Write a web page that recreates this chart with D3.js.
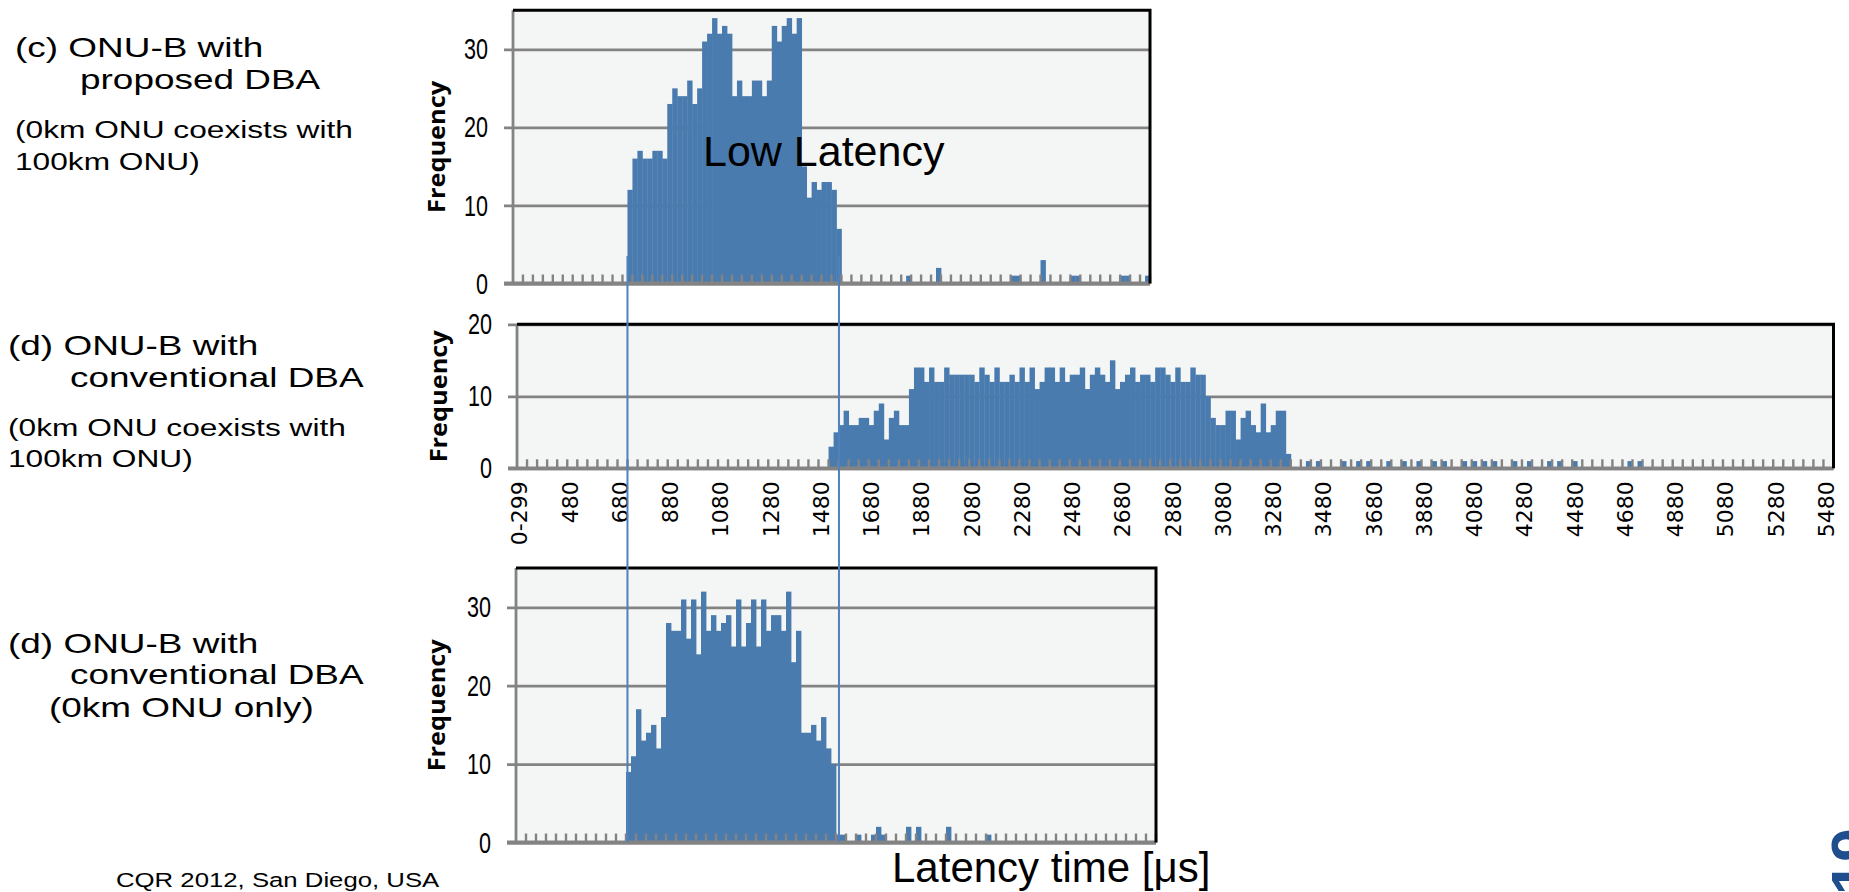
<!DOCTYPE html>
<html lang="en">
<head>
<meta charset="UTF-8">
<title>ONU-B latency histograms</title>
<style>
  body { margin: 0; background: #ffffff; }
  svg { display: block; }
  .note { font-family: "Liberation Sans", Arial, sans-serif; fill: #000; }
</style>
</head>
<body>
<svg id="chart" width="1849" height="892"></svg>
<script src="https://cdn.jsdelivr.net/npm/d3@7"></script>
<script>
// histogram bins: first one is 0-299 us, then 20 us wide bins up to 5500
const bins = ["0-299"].concat(d3.range(300, 5501, 20).map(String));

const xTickLabels = ["0-299","480","680","880","1080","1280","1480","1680","1880","2080","2280",
  "2480","2680","2880","3080","3280","3480","3680","3880","4080","4280","4480","4680","4880",
  "5080","5280","5480"];

const yTicks35 = [0, 10, 20, 30];
const yTicks20 = [0, 10, 20];

// (c) ONU-B with proposed DBA (0km ONU coexists with 100km ONU)
const proposedFirstBin = "740";
const proposedFreq = [12,16,17,16,16,17,17,16,23,25,24,24,26,23,25,31,32,34,32,33,32,
  24,26,24,24,26,26,24,26,33,31,33,34,32,34,15,11,13,12,13,13,12,7];
const proposedTail = [["1860",1],["1980",2],["2280",1],["2300",1],["2400",3],
  ["2520",1],["2540",1],["2720",1],["2740",1],["2820",1]];

// (d) ONU-B with conventional DBA (0km ONU coexists with 100km ONU)
const mixedFirstBin = "1520";
const mixedFreq = [3,5,6,8,6,6,7,7,6,8, 9,4,7,8,6,6,11,14,14,12, 14,12,12,14,13,13,13,13,13,12,
  14,13,12,14,12,12,13,12,14,12, 14,11,12,14,14,12,14,12,13,13, 14,11,13,14,13,12,15,11,12,13,
  14,12,13,13,12,14,14,13,12,14, 12,12,14,13,13,10,7,6,6,8, 8,4,7,8,6,5,9,5,6,8, 8,2];
const mixedTail = [["3420",1],["3460",1],["3560",1],["3620",1],["3660",1],["3740",1],["3800",1],
  ["3860",1],["3920",1],["3960",1],["4040",1],["4080",1],["4120",1],["4160",1],["4240",1],
  ["4300",1],["4380",1],["4420",1],["4480",1],["4700",1],["4740",1]];

// (d) ONU-B with conventional DBA (0km ONU only)
const onlyFirstBin = "720";
const onlyFreq = [9,11,17,13,14,15,12,16,28,27,27,31,26,31,24,32,27,29,27,28,29,
  25,31,25,28,31,25,31,27,29,29,27,32,23,27,14,14,15,13,16,12,10];
const onlyTail = [["1560",1],["1580",1],["1640",1],["1700",1],["1720",2],["1740",1],
  ["1840",2],["1880",2],["2000",2],["2160",1]];

// low latency window marked across the panels
const markerBins = ["740", "1580"];

const svg = d3.select("#chart");

const panels = [
  { id: "proposed", left: 513, right: 1150, top: 10.3, zero: 283.5, yMax: 35, yTicks: yTicks35,
    nBins: 128, first: proposedFirstBin, freq: proposedFreq, tail: proposedTail, labelX: 437, xLabels: false },
  { id: "mixed", left: 517, right: 1833.5, top: 324.3, zero: 468.3, yMax: 20, yTicks: yTicks20,
    nBins: 262, first: mixedFirstBin, freq: mixedFreq, tail: mixedTail, labelX: 439, xLabels: true },
  { id: "only", left: 516, right: 1156, top: 568.1, zero: 842.5, yMax: 35, yTicks: yTicks35,
    nBins: 128, first: onlyFirstBin, freq: onlyFreq, tail: onlyTail, labelX: 437, xLabels: false }
];

function drawPanel(p) {
  const x = d3.scaleBand().domain(bins.slice(0, p.nBins)).range([p.left, p.right]);
  const y = d3.scaleLinear().domain([0, p.yMax]).range([p.zero, p.top]);
  const bw = x.bandwidth();
  const g = svg.append("g").attr("id", p.id);

  // plot area
  g.append("rect")
    .attr("x", p.left).attr("y", y(p.yMax))
    .attr("width", p.right - p.left).attr("height", y(0) - y(p.yMax))
    .attr("fill", "#f4f6f5");

  // gridlines and y labels
  const yAxis = g.append("g")
    .attr("transform", "translate(" + (p.left - 9) + ",0)")
    .call(d3.axisLeft(y).tickValues(p.yTicks).tickSize(-(p.right - p.left + 9)).tickPadding(16));
  yAxis.select(".domain").remove();
  yAxis.selectAll(".tick line").attr("stroke", "#838383").attr("stroke-width", 2.8);
  yAxis.selectAll(".tick text")
    .attr("fill", "#000")
    .style("font-family", "'Liberation Sans', Arial, sans-serif")
    .style("font-size", "30px")
    .attr("textLength", d => String(d).length * 12)
    .attr("lengthAdjust", "spacingAndGlyphs");

  // bars
  const start = bins.indexOf(p.first);
  const bars = p.freq.map((v, i) => ({ bin: bins[start + i], v: v }))
    .concat(p.tail.map(t => ({ bin: t[0], v: t[1] })));
  g.selectAll("rect.bar")
    .data(bars)
    .join("rect")
    .attr("class", "bar")
    .attr("x", d => x(d.bin))
    .attr("width", bw + 0.4)
    .attr("y", d => y(d.v))
    .attr("height", d => y(0) - y(d.v))
    .attr("fill", "#4a7baf");

  // small category tick marks, every second bin
  const tickX = x.domain().filter((d, i) => i > 0 && i % 2 === 0).map(d => x(d)).concat([p.right]);
  g.selectAll("line.xt")
    .data(tickX)
    .join("line")
    .attr("class", "xt")
    .attr("x1", d => d).attr("x2", d => d)
    .attr("y1", y(0)).attr("y2", y(0) - 9)
    .attr("stroke", "#838383").attr("stroke-width", 2.4);

  // axis lines
  g.append("line")
    .attr("x1", p.left - 9).attr("x2", p.right).attr("y1", y(0)).attr("y2", y(0))
    .attr("stroke", "#838383").attr("stroke-width", 3.8);
  g.append("line")
    .attr("x1", p.left).attr("x2", p.left).attr("y1", y(p.yMax)).attr("y2", y(0))
    .attr("stroke", "#838383").attr("stroke-width", 2.8);

  // black frame on top and right
  g.append("path")
    .attr("d", "M" + p.left + "," + y(p.yMax) + "H" + p.right + "V" + y(0))
    .attr("fill", "none").attr("stroke", "#000").attr("stroke-width", 3);

  g.append("text")
    .attr("transform", "translate(" + p.labelX + "," + ((y(0) + y(p.yMax)) / 2) + ") rotate(-90)")
    .attr("text-anchor", "middle")
    .attr("dy", "0.35em")
    .attr("textLength", 132)
    .attr("lengthAdjust", "spacingAndGlyphs")
    .style("font-family", "'Open Sans', sans-serif")
    .style("font-weight", "bold")
    .style("font-size", "23px")
    .text("Frequency");

  if (p.xLabels) {
    const xAxis = g.append("g")
      .attr("transform", "translate(0," + y(0) + ")")
      .call(d3.axisBottom(x).tickValues(xTickLabels).tickSize(0));
    xAxis.select(".domain").remove();
    xAxis.selectAll(".tick text")
      .attr("transform", "rotate(-90)")
      .attr("x", -13).attr("y", 0).attr("dy", "0.36em")
      .style("text-anchor", "end")
      .style("font-family", "'DejaVu Sans', sans-serif")
      .style("font-size", "22px")
      .attr("fill", "#000");
  }
  return { x: x, y: y };
}

const scales = panels.map(drawPanel);

// vertical lines framing the low latency window
const topX = scales[0].x;
const markX = [topX(markerBins[0]), topX(markerBins[1]) + topX.bandwidth() / 2];
svg.selectAll("line.marker")
  .data(markX)
  .join("line")
  .attr("class", "marker")
  .attr("x1", d => d).attr("x2", d => d)
  .attr("y1", 256).attr("y2", scales[2].y(0))
  .attr("stroke", "#4f81bd").attr("stroke-width", 2);

svg.append("text").attr("class", "note")
  .attr("x", 703).attr("y", 166)
  .style("font-size", "43px")
  .text("Low Latency");

svg.append("text").attr("class", "note")
  .attr("x", 892).attr("y", 882)
  .style("font-size", "42px")
  .text("Latency time [\u03bcs]");

// panel captions on the left (wide lettering)
const captions = [
  { t: "(c) ONU-B with", x: 15, y: 57, s: 28 },
  { t: "proposed DBA", x: 80, y: 89, s: 28 },
  { t: "(0km ONU coexists with", x: 15, y: 138, s: 24 },
  { t: "100km ONU)", x: 15, y: 170, s: 24 },
  { t: "(d) ONU-B with", x: 8, y: 355, s: 28 },
  { t: "conventional DBA", x: 70, y: 387, s: 28 },
  { t: "(0km ONU coexists with", x: 8, y: 436, s: 24 },
  { t: "100km ONU)", x: 8, y: 467, s: 24 },
  { t: "(d) ONU-B with", x: 8, y: 653, s: 28 },
  { t: "conventional DBA", x: 70, y: 684, s: 28 },
  { t: "(0km ONU only)", x: 49, y: 717, s: 28 },
  { t: "CQR 2012, San Diego, USA", x: 116, y: 887, s: 19.5 }
];
svg.selectAll("text.caption")
  .data(captions)
  .join("text")
  .attr("class", "note caption")
  .attr("transform", d => "translate(" + d.x + "," + d.y + ") scale(1.32,1)")
  .style("font-size", d => d.s + "px")
  .text(d => d.t);

// slide number, cut by the right edge
svg.append("text")
  .attr("transform", "translate(1873,895) rotate(-90)")
  .style("font-family", "'Liberation Sans', Arial, sans-serif")
  .style("font-weight", "bold")
  .style("font-size", "60px")
  .attr("fill", "#1f4e8c")
  .text("19");
</script>
</body>
</html>
